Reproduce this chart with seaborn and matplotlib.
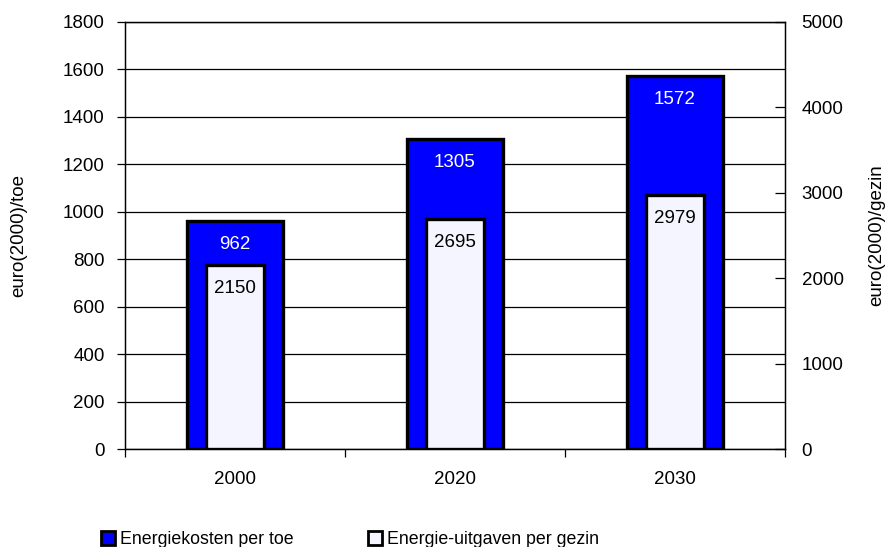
import numpy as np
import pandas as pd
import matplotlib
matplotlib.use('Agg')
import matplotlib.pyplot as plt
import seaborn as sns
from matplotlib.patches import Patch

# data
years = ['2000', '2020', '2030']
kosten_per_toe = [962, 1305, 1572]
uitgaven_per_gezin = [2150, 2695, 2979]

left_label = 'euro(2000)/toe'
right_label = 'euro(2000)/gezin'
legend_labels = ['Energiekosten per toe', 'Energie-uitgaven per gezin']

sns.set_style('white')
plt.rcParams['font.family'] = ['Liberation Sans', 'DejaVu Sans']
plt.rcParams['text.color'] = 'black'
plt.rcParams['axes.labelcolor'] = 'black'
plt.rcParams['xtick.color'] = 'black'
plt.rcParams['ytick.color'] = 'black'

df = pd.DataFrame({'jaar': years, 'kosten': kosten_per_toe, 'uitgaven': uitgaven_per_gezin})

fig = plt.figure(figsize=(8.87, 5.47), dpi=100)
ax = fig.add_axes([125 / 887, 1 - 449 / 547, 660 / 887, 427 / 547])

fs = 13.5
sns.barplot(data=df, x='jaar', y='kosten', ax=ax, color='#0000FF', saturation=1,
            width=0.44, edgecolor='black', linewidth=2.4, zorder=3)
ax.set_ylim(0, 1800)
ax.set_yticks(np.arange(0, 1801, 200))
ax.grid(axis='y', color='black', linewidth=0.9, zorder=0)
ax.set_axisbelow(True)
ax.set_xlim(-0.5, 2.5)
ax.set_xlabel('')
ax.set_ylabel(left_label, fontsize=fs, labelpad=26)
ax.bar_label(ax.containers[0], padding=-23, color='white', fontsize=fs)

ax2 = ax.twinx()
sns.barplot(data=df, x='jaar', y='uitgaven', ax=ax2, color='#F5F5FF', saturation=1,
            width=0.26, edgecolor='black', linewidth=2.4, zorder=3)
ax2.set_ylim(0, 5000)
ax2.set_yticks(np.arange(0, 5001, 1000))
ax2.set_xlim(-0.5, 2.5)
ax2.set_xlabel('')
ax2.set_ylabel(right_label, fontsize=fs, labelpad=18)
ax2.bar_label(ax2.containers[0], padding=-23, color='black', fontsize=fs)
ax2.grid(False)

# ticks
ax.tick_params(axis='y', direction='out', length=6, width=0.9, labelsize=fs, pad=8.5,
               left=True, color='black', labelcolor='black')
ax.set_xticks(range(len(years)))
ax.set_xticklabels(years)
ax.tick_params(axis='x', length=0, labelsize=fs, pad=16, labelcolor='black')
ax.set_xticks([-0.5, 0.5, 1.5, 2.5], minor=True)
ax.tick_params(axis='x', which='minor', direction='out', length=6, width=0.9,
               bottom=True, color='black')
ax2.tick_params(axis='y', direction='in', length=7, width=0.9, labelsize=fs, pad=12,
                right=True, color='black', labelcolor='black')

for a in (ax, ax2):
    for s in a.spines.values():
        s.set_color('black')
        s.set_linewidth(0.9)

handles = [Patch(facecolor='#0000FF', edgecolor='black', linewidth=2),
           Patch(facecolor='#F5F5FF', edgecolor='black', linewidth=2)]
fig.legend(handles, legend_labels, loc='lower left', bbox_to_anchor=(94 / 887, -0.015),
           ncol=2, frameon=False, fontsize=12.8, handlelength=0.8, handleheight=0.8,
           handletextpad=0.25, columnspacing=4.2, borderaxespad=0)

fig.savefig('out.png', dpi=100)
